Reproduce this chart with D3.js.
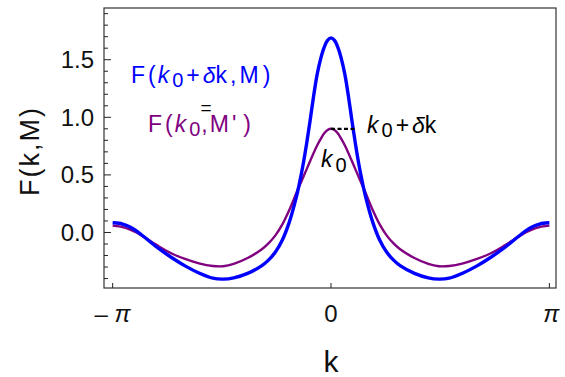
<!DOCTYPE html>
<html><head><meta charset="utf-8">
<script src="https://cdn.jsdelivr.net/npm/d3@7"></script>
<style>body{margin:0;background:#fff}svg{display:block}text{font-family:"Liberation Sans",Arial,sans-serif}</style>
</head><body>
<svg id="c" width="565" height="377"></svg>
<script>
// ---- data ----
const kValues = [-3.1416,-3.05,-3.0,-2.9,-2.8,-2.7,-2.5,-2.3,-2.1,-1.9,-1.7,-1.55,-1.4,-1.2,-1.0,-0.9,-0.8,-0.7,-0.6,-0.5,-0.45,-0.4,-0.35,-0.3,-0.25,-0.2,-0.15,-0.1,-0.05,
  0,0.05,0.1,0.15,0.2,0.25,0.3,0.35,0.4,0.45,0.5,0.6,0.7,0.8,0.9,1.0,1.2,1.4,1.55,1.7,1.9,2.1,2.3,2.5,2.7,2.8,2.9,3.0,3.05,3.1416];
const blueValues = [0.085,0.080,0.073,0.05,0.014,-0.033,-0.13,-0.215,-0.29,-0.352,-0.397,-0.405,-0.394,-0.355,-0.29,-0.24,-0.17,-0.065,0.09,0.305,0.44,0.595,0.775,0.975,1.185,1.37,1.505,1.605,1.668,
  1.69,1.668,1.605,1.505,1.37,1.185,0.975,0.775,0.595,0.44,0.305,0.09,-0.065,-0.17,-0.24,-0.29,-0.355,-0.394,-0.405,-0.397,-0.352,-0.29,-0.215,-0.13,-0.033,0.014,0.05,0.073,0.080,0.085];
const purpleValues = [0.06,0.053,0.046,0.027,0.0,-0.036,-0.112,-0.18,-0.23,-0.268,-0.291,-0.293,-0.273,-0.222,-0.148,-0.095,-0.025,0.07,0.195,0.34,0.41,0.48,0.55,0.62,0.69,0.755,0.81,0.86,0.89,
  0.90,0.89,0.86,0.81,0.755,0.69,0.62,0.55,0.48,0.41,0.34,0.195,0.07,-0.025,-0.095,-0.148,-0.222,-0.273,-0.293,-0.291,-0.268,-0.23,-0.18,-0.112,-0.036,0.0,0.027,0.046,0.053,0.06];
const yTickValues = [0.0,0.5,1.0,1.5];
const yTickLabels = ["0.0","0.5","1.0","1.5"];
const xTickValues = [-Math.PI,0,Math.PI];
const markerPeak = 0.9, markerDeltaK = 0.37;

const svg = d3.select("#c");
const L=104,R=556,T=8,B=288;
const x = d3.scaleLinear().domain([-3.266,3.237]).range([L,R]);
const y = d3.scaleLinear().domain([-0.482,1.949]).range([B,T]);

// frame
svg.append("rect").attr("x",L).attr("y",T).attr("width",R-L).attr("height",B-T)
  .attr("fill","none").attr("stroke","#333").attr("stroke-width",1.2);

// y ticks
const minor = d3.range(-4,20).map(i=>i/10);
svg.append("g").selectAll("line").data(minor).join("line")
  .attr("x1",L).attr("x2",d=>L+(Math.abs(d*2-Math.round(d*2))<1e-6?7:4))
  .attr("y1",d=>y(d)).attr("y2",d=>y(d)).attr("stroke","#222").attr("stroke-width",1);
svg.append("g").selectAll("text").data(yTickValues).join("text")
  .attr("x",94).attr("y",d=>y(d)+8.5).attr("text-anchor","end")
  .attr("font-size",24).attr("fill","#111").text((d,i)=>yTickLabels[i]);

// x ticks
svg.append("g").selectAll("line").data(xTickValues).join("line")
  .attr("x1",d=>x(d)).attr("x2",d=>x(d)).attr("y1",B).attr("y2",B-5)
  .attr("stroke","#222").attr("stroke-width",1);
const xl = svg.append("g").attr("font-size",24).attr("fill","#111");
xl.append("text").attr("x",x(-Math.PI)).attr("y",322).attr("text-anchor","middle")
  .call(t=>{t.append("tspan").text("\u2013 ");t.append("tspan").attr("font-style","italic").text("\u03c0");});
xl.append("text").attr("x",x(0)).attr("y",322).attr("text-anchor","middle").text("0");
xl.append("text").attr("x",x(Math.PI)+2).attr("y",322).attr("text-anchor","middle").attr("font-style","italic").text("\u03c0");

// axis titles
svg.append("text").attr("x",331).attr("y",372).attr("text-anchor","middle")
  .attr("font-size",30).attr("fill","#111").text("k");
svg.append("text").attr("transform","translate(39,151) rotate(-90)").attr("text-anchor","middle")
  .attr("font-size",27).attr("letter-spacing",2).attr("fill","#111").text("F(k,M)");

// curves
const pts = (vals)=>kValues.map((k,i)=>[k,vals[i]]);
const line = d3.line().x(d=>x(d[0])).y(d=>y(d[1])).curve(d3.curveCatmullRom.alpha(0.5));
svg.append("path").attr("d",line(pts(purpleValues))).attr("fill","none")
  .attr("stroke","#800080").attr("stroke-width",2.4);
svg.append("path").attr("d",line(pts(blueValues))).attr("fill","none")
  .attr("stroke","#0000ff").attr("stroke-width",3.4);

// dashed marker
svg.append("line").attr("x1",x(0)).attr("x2",x(markerDeltaK)).attr("y1",y(markerPeak)).attr("y2",y(markerPeak))
  .attr("stroke","#000").attr("stroke-width",2.2).attr("stroke-dasharray","4,2.5");

// rich text helper
function rich(xp,yp,parts,color,size){
  const t = svg.append("text").attr("x",xp).attr("y",yp).attr("font-size",size).attr("fill",color);
  parts.forEach(p=>{
    const s=t.append("tspan").text(p.t);
    if(p.i) s.attr("font-style","italic");
    if(p.dx!==undefined) s.attr("dx",p.dx);
    if(p.dy!==undefined) s.attr("dy",p.dy);
    if(p.fs) s.attr("font-size",p.fs);
  });
  return t;
}
rich(131,83,[{t:"F"},{t:"(",dx:3},{t:"k",i:1,dx:2},{t:"0",dx:3,dy:4,fs:20},{t:"+",dx:3,dy:-4},{t:"δ",i:1,dx:3},{t:"k"},{t:",",dx:3},{t:"M",dx:3},{t:")",dx:4}],"#0000ff",23);
svg.append("text").attr("x",206).attr("y",114).attr("text-anchor","middle").attr("font-size",19).attr("fill","#000").text("=");
rich(148,132,[{t:"F"},{t:"(",dx:3},{t:"k",i:1,dx:2},{t:"0",dx:3,dy:4,fs:20},{t:",",dx:1,dy:-4},{t:"M",dx:2},{t:"'",dx:3},{t:")",dx:7}],"#800080",23);
rich(367,133,[{t:"k",i:1},{t:"0",dx:3,dy:4,fs:20},{t:"+",dx:3,dy:-4},{t:"δ",i:1,dx:3},{t:"k"}],"#000",23);
rich(321,167,[{t:"k",i:1},{t:"0",dx:3,dy:5,fs:20}],"#000",23);
</script>
</body></html>
